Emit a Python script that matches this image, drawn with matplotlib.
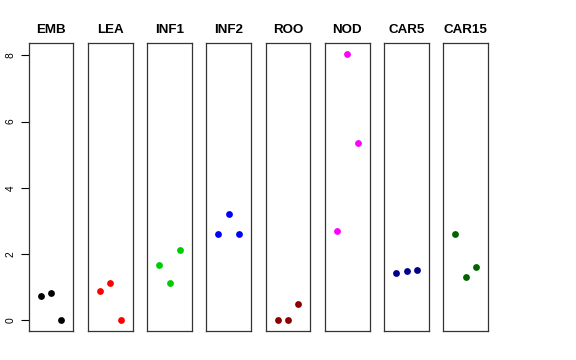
import matplotlib
matplotlib.use("Agg")
import matplotlib.pyplot as plt

plt.rcParams["font.family"] = ["Liberation Sans", "DejaVu Sans"]

groups = ["EMB", "LEA", "INF1", "INF2", "ROO", "NOD", "CAR5", "CAR15"]
colors = ["black", "red", "#00CD00", "blue", "#8B0000", "magenta", "#00008B", "#006400"]
xpos = [1, 2, 3]
values = [
  [0.73, 0.82, 0.0],
  [0.89, 1.12, 0.0],
  [1.66, 1.14, 2.12],
  [2.61, 3.22, 2.61],
  [0.0, 0.0, 0.48],
  [2.71, 8.05, 5.36],
  [1.42, 1.50, 1.52],
  [2.61, 1.31, 1.60],
]
yticks = [0, 2, 4, 6, 8]

W, H = 576, 360
fig = plt.figure(figsize=(W / 100, H / 100), dpi=100)

panel_w = 44.6
step = 59.25
left0 = 28.7
top, bottom = 43, 331

for i, (name, col, vals) in enumerate(zip(groups, colors, values)):
  x0 = left0 + i * step
  ax = fig.add_axes([x0 / W, (H - bottom) / H, panel_w / W, (bottom - top) / H])
  ax.plot(xpos, vals, "o", color=col, markersize=4.9, markeredgewidth=0)
  ax.set_xlim(-0.16, 4.16)
  ax.set_ylim(-0.32, 8.37)
  ax.set_xticks([])
  for s in ax.spines.values():
    s.set_color("#333333")
    s.set_linewidth(0.9)
  ax.set_title(name, fontsize=9.6, fontweight="bold", pad=7)
  if i == 0:
    ax.set_yticks(yticks)
    ax.set_yticklabels([str(t) for t in yticks], rotation=90, va="center", fontsize=7.4)
    ax.tick_params(axis="y", length=5.5, width=0.8, pad=4)
  else:
    ax.set_yticks([])

fig.savefig("out.png", dpi=100)
